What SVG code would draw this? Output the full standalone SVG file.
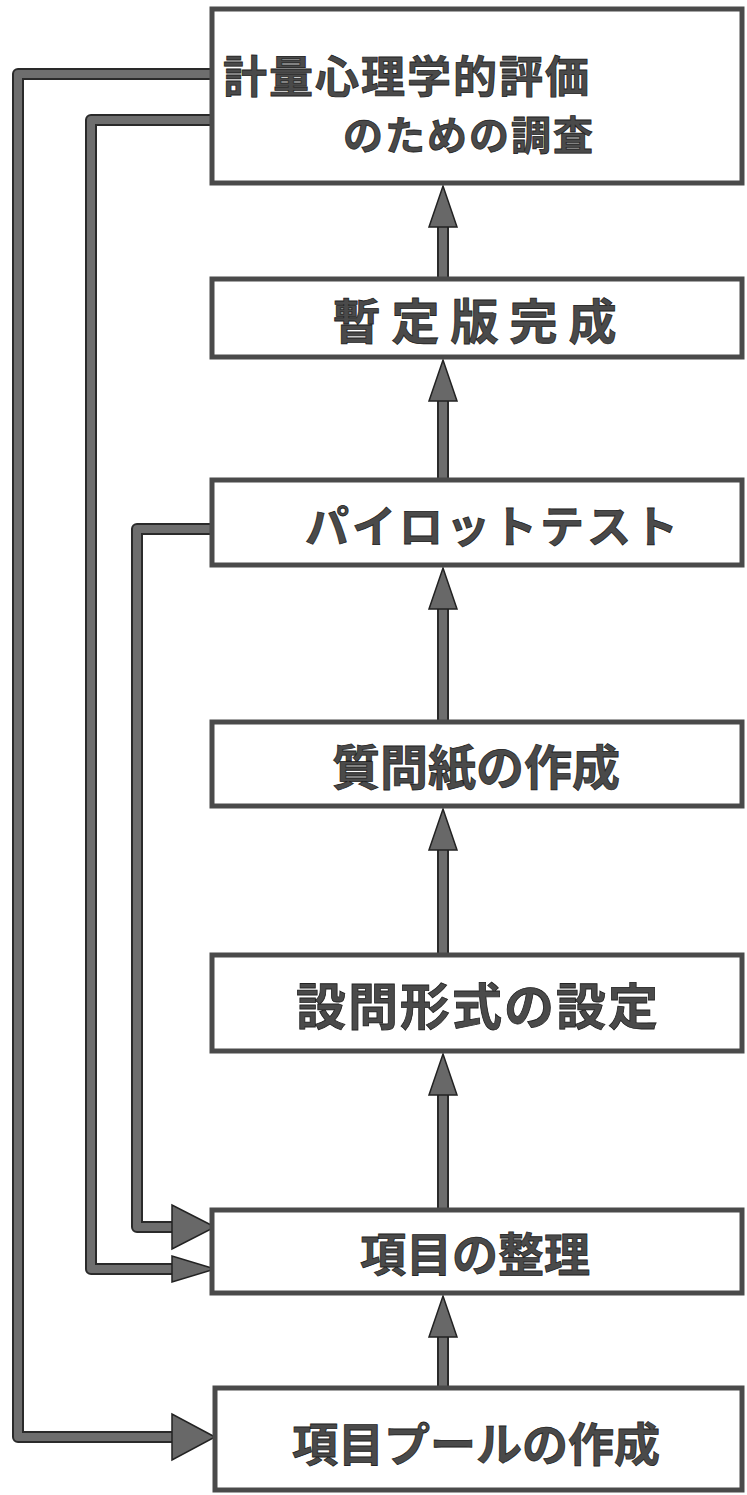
<svg xmlns="http://www.w3.org/2000/svg" width="747" height="1495" viewBox="0 0 747 1495">
<style>
.box{fill:#fff;stroke:#4a4a4a;stroke-width:5}
.lbl{font-family:"Noto Sans CJK JP","Noto Sans CJK SC",sans-serif;font-weight:700;fill:#4a4a4a;stroke:#222;stroke-width:0.8;text-anchor:middle;dominant-baseline:central}
.wireO{fill:none;stroke:#2a2a2a;stroke-width:12;stroke-linejoin:round}
.wireI{fill:none;stroke:#6e6e6e;stroke-width:8;stroke-linejoin:round}
.head{fill:#686868;stroke:#222;stroke-width:1.5;stroke-linejoin:miter}
</style>
<rect width="747" height="1495" fill="#fff"/>
<g id="connectors">
<path class="wireO" d="M443,1388 V1333 M443,1210 V1088 M443,955 V843 M443,722 V602 M443,480 V394 M443,279 V220"/>
<path class="wireI" d="M443,1388 V1333 M443,1210 V1088 M443,955 V843 M443,722 V602 M443,480 V394 M443,279 V220"/>
<polygon class="head" points="443,1296 457,1337 429,1337"/>
<polygon class="head" points="443,1054 457,1095 429,1095"/>
<polygon class="head" points="443,809 457,850 429,850"/>
<polygon class="head" points="443,568 457,609 429,609"/>
<polygon class="head" points="443,360 457,401 429,401"/>
<polygon class="head" points="443,186 457,227 429,227"/>
<path class="wireO" d="M212,74 H18 V1437 H176"/>
<path class="wireI" d="M212,74 H18 V1437 H176"/>
<path class="wireO" d="M212,120 H91 V1269 H176"/>
<path class="wireI" d="M212,120 H91 V1269 H176"/>
<path class="wireO" d="M212,529 H137 V1227 H176"/>
<path class="wireI" d="M212,529 H137 V1227 H176"/>
<polygon class="head" points="215,1437 172,1414 172,1460"/>
<polygon class="head" points="215,1269 172,1256 172,1282"/>
<polygon class="head" points="215,1227 172,1205 172,1249"/>
</g>
<g id="n1"><rect class="box" x="212" y="9" width="530" height="174"/>
<text class="lbl" x="407" y="74" font-size="44" letter-spacing="2">計量心理学的評価</text>
<text class="lbl" x="469" y="133" font-size="40" letter-spacing="2">のための調査</text></g>
<g id="n2"><rect class="box" x="212" y="279" width="530" height="78"/>
<text class="lbl" x="480" y="318" font-size="48" letter-spacing="11">暫定版完成</text></g>
<g id="n3"><rect class="box" x="212" y="480" width="530" height="85"/>
<text class="lbl" x="493" y="524" font-size="44" letter-spacing="3">パイロットテスト</text></g>
<g id="n4"><rect class="box" x="212" y="722" width="530" height="84"/>
<text class="lbl" x="476" y="764" font-size="48">質問紙の作成</text></g>
<g id="n5"><rect class="box" x="212" y="955" width="530" height="96"/>
<text class="lbl" x="478" y="1003" font-size="50" letter-spacing="2">設問形式の設定</text></g>
<g id="n6"><rect class="box" x="212" y="1210" width="530" height="83"/>
<text class="lbl" x="475" y="1251" font-size="46">項目の整理</text></g>
<g id="n7"><rect class="box" x="215" y="1388" width="527" height="102"/>
<text class="lbl" x="476" y="1441" font-size="46">項目プールの作成</text></g>
</svg>
